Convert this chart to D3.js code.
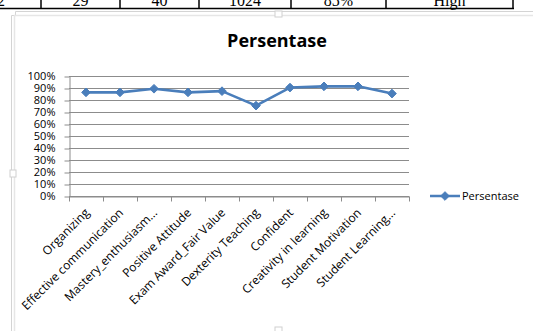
<!DOCTYPE html>
<html>
<head>
<meta charset="utf-8">
<script src="https://cdn.jsdelivr.net/npm/d3@7"></script>
<style>
  html, body { margin: 0; padding: 0; background: #fff; }
  svg { display: block; }
</style>
</head>
<body>
<svg id="chart" width="533" height="331"></svg>
<script>
// Category names along the x axis
const categories = [
  "Organizing", "Effective communication", "Mastery_enthusiasm...", "Positive Attitude",
  "Exam Award_Fair Value", "Dexterity Teaching", "Confident", "Creativity in learning",
  "Student Motivation", "Student Learning..."
];
// Persentase series (fractions)
const persentase = [0.86, 0.86, 0.89, 0.86, 0.87, 0.75, 0.90, 0.91, 0.91, 0.85];
// Y tick values
const yTicks = [0, 0.1, 0.2, 0.3, 0.4, 0.5, 0.6, 0.7, 0.8, 0.9, 1.0];
// Table row above the chart
const tableCells = ["29", "40", "1024", "85%", "High"];
const tableEdges = [41, 120, 199, 291, 386, 513];

const svg = d3.select("#chart");
const font = "'Open Sans', sans-serif";
const lineBlue = "#4a7ebb";

// ---- table row fragment at the top ----
const tbl = svg.append("g");
tbl.append("text").attr("x", 5).attr("y", 6).attr("text-anchor", "end")
  .attr("font-family", "'Liberation Serif', serif").attr("font-size", 16).text("2");
tableCells.forEach((t, i) => {
  tbl.append("text")
    .attr("x", (tableEdges[i] + tableEdges[i + 1]) / 2)
    .attr("y", 6)
    .attr("text-anchor", "middle")
    .attr("font-family", "'Liberation Serif', serif")
    .attr("font-size", 16)
    .text(t);
});
tbl.append("line").attr("x1", 0).attr("x2", 514).attr("y1", 8.5).attr("y2", 8.5)
  .attr("stroke", "#000").attr("stroke-width", 1.5);
tableEdges.forEach(x => {
  tbl.append("line").attr("x1", x).attr("x2", x).attr("y1", 0).attr("y2", 9)
    .attr("stroke", "#000").attr("stroke-width", 1.5);
});

// ---- chart frame (double grey border) ----
const frame = svg.append("g");
frame.append("path").attr("d", "M11.5,331 V15.5 H15.5 V11.5 H533")
  .attr("fill", "none").attr("stroke", "#d4d4d4").attr("stroke-width", 1);
frame.append("path").attr("d", "M14.5,331 V15.5 H533")
  .attr("fill", "none").attr("stroke", "#e6e6e6").attr("stroke-width", 1.5);
// resize handles
frame.append("rect").attr("x", 275).attr("y", 11).attr("width", 7).attr("height", 6)
  .attr("fill", "#fff").attr("stroke", "#d0d0d0");
frame.append("rect").attr("x", 10).attr("y", 170).attr("width", 6).attr("height", 7)
  .attr("fill", "#fff").attr("stroke", "#d0d0d0");
frame.append("rect").attr("x", 275).attr("y", 327).attr("width", 7).attr("height", 6)
  .attr("fill", "#fff").attr("stroke", "#d0d0d0");

// clip for chart contents
svg.append("defs").append("clipPath").attr("id", "area")
  .append("rect").attr("x", 15.5).attr("y", 16).attr("width", 520).attr("height", 320);
const chart = svg.append("g").attr("clip-path", "url(#area)");

// title
chart.append("text")
  .attr("x", 277).attr("y", 47)
  .attr("text-anchor", "middle")
  .attr("font-family", font)
  .attr("font-weight", "bold")
  .attr("font-size", 18)
  .attr("fill", "#000")
  .text("Persentase");

// scales
const plot = { left: 69, right: 409, top: 75.5, bottom: 196 };
const x = d3.scaleBand().domain(categories).range([plot.left, plot.right]);
const y = d3.scaleLinear().domain([0, 1]).range([plot.bottom, plot.top]);

// gridlines
chart.append("g").selectAll("line").data(yTicks).join("line")
  .attr("x1", plot.left).attr("x2", plot.right)
  .attr("y1", d => Math.round(y(d)) + 0.5).attr("y2", d => Math.round(y(d)) + 0.5)
  .attr("stroke", "#8c8c8c").attr("stroke-width", 1);

// y axis
const yAxis = chart.append("g")
  .attr("transform", `translate(${plot.left + 0.5},0)`)
  .call(d3.axisLeft(y).tickValues(yTicks).tickFormat(d3.format(".0%")).tickSize(5).tickSizeOuter(0));
yAxis.select(".domain").attr("stroke", "#8c8c8c");
yAxis.selectAll(".tick line").attr("stroke", "#8c8c8c")
  .attr("transform", d => `translate(0,${Math.round(y(d)) + 0.5 - y(d)})`);
yAxis.selectAll(".tick text")
  .attr("font-family", font).attr("font-size", 11).attr("fill", "#000")
  .attr("x", -14).attr("dy", "0.34em");

// x axis
const xAxis = chart.append("g")
  .attr("transform", `translate(0,${plot.bottom + 0.5})`)
  .call(d3.axisBottom(x).tickSize(0).tickSizeOuter(0));
xAxis.select(".domain").attr("stroke", "#8c8c8c");
// tick marks at category boundaries
xAxis.append("g").selectAll("line")
  .data(categories.map(c => x(c)).concat([plot.right]))
  .join("line")
  .attr("x1", d => Math.round(d) + 0.5).attr("x2", d => Math.round(d) + 0.5)
  .attr("y1", 0).attr("y2", 5)
  .attr("stroke", "#8c8c8c");
xAxis.selectAll(".tick text")
  .attr("font-family", font).attr("font-size", 12).attr("fill", "#000")
  .attr("text-anchor", "end")
  .attr("dy", 0)
  .attr("transform", "translate(4,17) rotate(-45)")
  .attr("y", 0).attr("x", 0);

// series line
const cx = d => x(d) + x.bandwidth() / 2;
const pts = categories.map((c, i) => [cx(c), y(persentase[i])]);
chart.append("path")
  .attr("d", d3.line()(pts))
  .attr("fill", "none")
  .attr("stroke", lineBlue)
  .attr("stroke-width", 2.6)
  .attr("stroke-linejoin", "round");

// diamond markers
const diamond = d3.symbol().type(d3.symbolDiamond2).size(48);
chart.append("g").selectAll("path").data(pts).join("path")
  .attr("d", diamond)
  .attr("transform", d => `translate(${d[0]},${d[1]})`)
  .attr("fill", lineBlue)
  .attr("stroke", lineBlue)
  .attr("stroke-width", 1);

// legend
const lg = chart.append("g").attr("transform", "translate(430,196)");
lg.append("line").attr("x1", 0).attr("x2", 30).attr("y1", 0).attr("y2", 0)
  .attr("stroke", lineBlue).attr("stroke-width", 2.6);
lg.append("path").attr("d", diamond).attr("transform", "translate(15,0)")
  .attr("fill", lineBlue).attr("stroke", lineBlue);
lg.append("text").attr("x", 32).attr("y", 4)
  .attr("font-family", font).attr("font-size", 11).attr("fill", "#000")
  .text("Persentase");
</script>
</body>
</html>
